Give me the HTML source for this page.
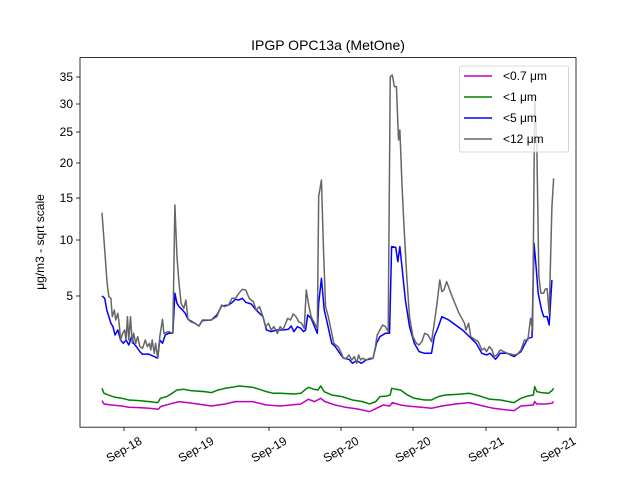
<!DOCTYPE html>
<html><head><meta charset="utf-8"><style>
html,body{margin:0;padding:0;background:#fff;}
svg{display:block;font-family:"Liberation Sans","DejaVu Sans",sans-serif;}
</style></head><body>
<svg width="640" height="480" viewBox="0 0 640 480" xmlns="http://www.w3.org/2000/svg">
<rect width="640" height="480" fill="#fff"/>
<text x="328" y="50" font-size="14" text-anchor="middle">IPGP OPC13a (MetOne)</text>
<text transform="translate(44,242) rotate(-90)" font-size="12" text-anchor="middle">μg/m3 - sqrt scale</text>
<g stroke="#000" stroke-width="0.8">
<line x1="76" y1="77" x2="80" y2="77"/><line x1="76" y1="104" x2="80" y2="104"/>
<line x1="76" y1="132" x2="80" y2="132"/><line x1="76" y1="163" x2="80" y2="163"/>
<line x1="76" y1="198" x2="80" y2="198"/><line x1="76" y1="240" x2="80" y2="240"/>
<line x1="76" y1="296" x2="80" y2="296"/>
<line x1="124" y1="427" x2="124" y2="431"/><line x1="196" y1="427" x2="196" y2="431"/>
<line x1="269" y1="427" x2="269" y2="431"/><line x1="341" y1="427" x2="341" y2="431"/>
<line x1="413" y1="427" x2="413" y2="431"/><line x1="486" y1="427" x2="486" y2="431"/>
<line x1="558" y1="427" x2="558" y2="431"/>
</g>
<g font-size="12" text-anchor="end">
<text x="73" y="81">35</text><text x="73" y="108">30</text><text x="73" y="136">25</text>
<text x="73" y="167">20</text><text x="73" y="202">15</text><text x="73" y="244">10</text>
<text x="73" y="300">5</text>
</g>
<g font-size="12" text-anchor="middle">
<text transform="translate(126,453) rotate(-30)">Sep-18</text>
<text transform="translate(198,453) rotate(-30)">Sep-19</text>
<text transform="translate(271,453) rotate(-30)">Sep-19</text>
<text transform="translate(343,453) rotate(-30)">Sep-20</text>
<text transform="translate(415,453) rotate(-30)">Sep-20</text>
<text transform="translate(488,453) rotate(-30)">Sep-21</text>
<text transform="translate(560,453) rotate(-30)">Sep-21</text>
</g>
<g transform="translate(60,50) scale(0.344,0.3333)" fill="none" stroke-width="1.5" stroke-linejoin="round">
<polyline vector-effect="non-scaling-stroke" stroke="#bf00bf" points="122,1052 128,1062 150,1065 180,1068 200,1072 230,1073 260,1075 286,1078 292,1070 320,1062 346,1055 370,1058 400,1062 440,1068 480,1062 510,1055 560,1055 600,1065 640,1068 700,1062 722,1048 740,1055 758,1045 770,1055 800,1065 830,1072 870,1078 900,1085 920,1075 940,1065 958,1068 966,1058 990,1065 1010,1068 1050,1072 1080,1075 1110,1068 1150,1062 1190,1058 1230,1068 1260,1075 1300,1080 1320,1082 1340,1068 1376,1065 1380,1055 1386,1062 1410,1062 1430,1060 1435,1055"/>
<polyline vector-effect="non-scaling-stroke" stroke="#008000" points="122,1015 128,1030 140,1035 160,1042 180,1045 200,1050 230,1052 260,1055 284,1058 292,1045 310,1040 326,1030 340,1020 360,1018 380,1022 420,1025 440,1028 460,1020 480,1015 500,1012 520,1008 540,1010 560,1012 580,1018 600,1025 620,1030 640,1030 680,1032 700,1030 712,1020 722,1012 738,1018 750,1020 758,1008 768,1025 790,1035 820,1040 850,1050 880,1055 900,1062 918,1055 930,1040 950,1038 960,1035 964,1015 976,1018 990,1020 1010,1035 1030,1045 1060,1050 1080,1050 1100,1040 1120,1035 1160,1033 1190,1030 1220,1038 1250,1048 1280,1050 1320,1058 1340,1045 1360,1038 1376,1035 1380,1010 1386,1025 1400,1028 1420,1030 1430,1022 1435,1015"/>
<polyline vector-effect="non-scaling-stroke" stroke="#0000ff" points="122,738 130,745 136,780 142,800 148,820 154,830 160,855 168,840 176,870 184,880 192,870 200,885 208,860 214,880 222,890 232,905 240,913 256,912 270,918 284,925 290,870 298,880 306,855 316,850 328,850 334,730 340,760 346,770 356,780 364,790 372,808 392,820 404,828 414,812 440,810 456,795 470,768 490,765 500,758 510,748 520,750 530,745 540,757 556,762 570,780 580,790 590,800 600,840 614,845 630,840 650,840 664,838 672,828 680,845 690,830 700,835 708,845 714,840 720,795 730,805 740,830 748,850 752,760 760,685 768,780 776,815 790,880 800,890 810,905 824,925 840,928 850,940 862,932 876,940 890,930 910,925 920,880 930,860 946,850 958,850 964,590 976,592 982,635 988,590 996,670 1004,750 1016,830 1030,880 1044,905 1060,910 1080,910 1088,860 1100,830 1110,800 1130,810 1150,825 1170,840 1190,860 1210,880 1226,910 1240,915 1250,910 1266,928 1280,910 1300,910 1320,920 1340,905 1360,865 1372,862 1378,580 1384,650 1390,730 1400,780 1406,800 1416,800 1422,825 1430,690"/>
<polyline vector-effect="non-scaling-stroke" stroke="#666666" points="122,488 130,600 137,700 142,740 148,745 152,800 158,780 162,810 168,790 172,820 176,870 182,850 188,840 192,870 196,800 200,870 205,800 210,880 214,850 220,880 226,860 232,890 240,895 248,870 254,890 260,880 264,900 268,870 274,910 278,880 284,925 290,860 298,808 302,850 308,848 316,845 328,850 334,465 340,620 346,700 352,760 360,775 366,750 372,808 380,815 392,820 404,828 414,810 440,810 456,800 470,765 478,770 490,765 500,745 510,745 520,730 530,718 540,720 550,745 562,755 570,780 580,770 590,800 598,830 606,820 614,840 622,830 632,850 640,830 648,840 656,820 662,805 670,810 678,792 686,800 694,815 702,820 710,835 716,720 722,760 730,800 740,820 748,835 752,440 760,390 766,600 772,770 780,800 788,840 796,880 808,890 816,905 824,925 832,925 840,915 848,930 856,920 862,940 868,915 874,930 880,925 890,930 900,925 910,925 916,895 922,855 930,840 938,825 946,830 954,845 960,80 966,75 972,110 978,110 984,270 988,240 994,400 1000,530 1008,680 1016,800 1026,860 1036,880 1044,885 1052,875 1060,850 1070,855 1080,875 1088,820 1096,760 1104,690 1110,725 1116,720 1124,695 1140,740 1160,790 1176,820 1180,840 1188,820 1194,860 1208,870 1216,875 1226,900 1234,895 1240,905 1248,890 1256,900 1262,920 1270,915 1280,900 1290,905 1300,910 1310,912 1320,915 1330,912 1340,900 1350,870 1360,870 1368,805 1374,840 1380,140 1386,280 1392,680 1398,730 1406,730 1410,718 1416,716 1422,790 1430,470 1435,385"/>
</g>
<rect x="80" y="57.6" width="496" height="369.6" fill="none" stroke="#000" stroke-width="0.8"/>
<rect x="459.5" y="66" width="109" height="86" rx="2" fill="#fff" fill-opacity="0.8" stroke="#ccc" stroke-width="0.8"/>
<g stroke-width="1.5">
<line x1="464" y1="76" x2="492" y2="76" stroke="#bf00bf"/>
<line x1="464" y1="97" x2="492" y2="97" stroke="#008000"/>
<line x1="464" y1="118" x2="492" y2="118" stroke="#0000ff"/>
<line x1="464" y1="139" x2="492" y2="139" stroke="#666666"/>
</g>
<g font-size="12">
<text x="503" y="80">&lt;0.7 μm</text>
<text x="503" y="101">&lt;1 μm</text>
<text x="503" y="122">&lt;5 μm</text>
<text x="503" y="143">&lt;12 μm</text>
</g>
</svg>
</body></html>
